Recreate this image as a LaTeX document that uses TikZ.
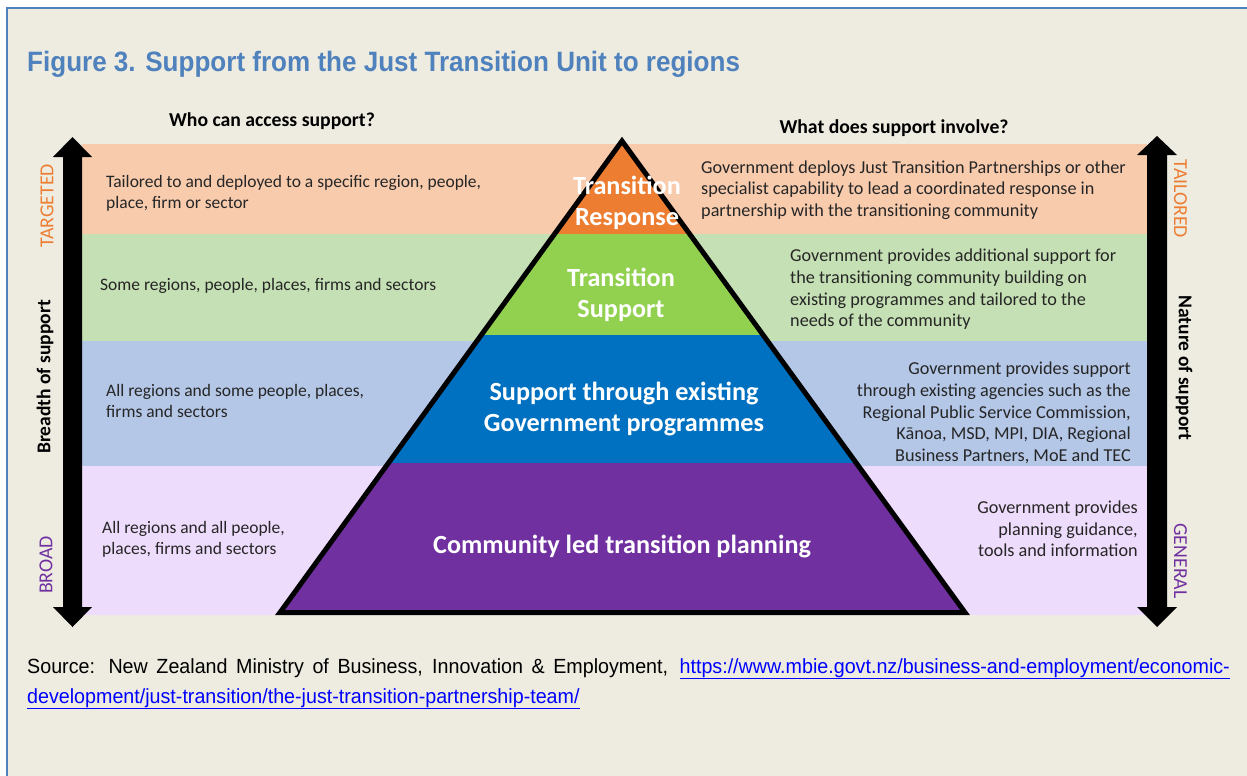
\documentclass[tikz,border=0pt]{standalone}
\usepackage{fontspec}
\setmainfont{Carlito}
\newfontfamily\titlefont[FakeStretch=0.93]{Liberation Sans}
\newfontfamily\srcfont[FakeStretch=0.96]{Liberation Sans}
\usetikzlibrary{positioning}

\definecolor{pagebg}{HTML}{EEECE1}
\definecolor{frameblue}{HTML}{4F81BD}
\definecolor{titleblue}{HTML}{4F81BD}
\definecolor{textgray}{HTML}{262626}
\definecolor{bandorange}{HTML}{F8CBAD}
\definecolor{bandgreen}{HTML}{C5E0B4}
\definecolor{bandblue}{HTML}{B4C7E7}
\definecolor{bandlilac}{HTML}{EEDCFC}
\definecolor{pyrorange}{HTML}{ED7D31}
\definecolor{pyrgreen}{HTML}{92D050}
\definecolor{pyrblue}{HTML}{0070C0}
\definecolor{pyrpurple}{HTML}{7030A0}
\definecolor{linkblue}{HTML}{0000FF}

\begin{document}
\begin{tikzpicture}[x=1pt,y=-1pt,
  lefttext/.style={font=\fontsize{17.5}{21}\selectfont,text=textgray,inner sep=0pt,align=left,anchor=west},
  righttext/.style={font=\fontsize{18.2}{21.7}\selectfont,text=textgray,inner sep=0pt},
  headtext/.style={font=\bfseries\fontsize{19.7}{22}\selectfont,text=black,inner sep=0pt,anchor=base},
  pyrtext/.style={font=\bfseries\fontsize{26.2}{31.5}\selectfont,text=white,inner sep=0pt,align=center},
  sidetag/.style={font=\fontsize{19.8}{22}\selectfont,inner sep=0pt},
  sidename/.style={font=\bfseries\fontsize{19.5}{22}\selectfont,text=black,inner sep=0pt},
  srctext/.style={font=\srcfont\fontsize{20.5}{24}\selectfont,inner sep=0pt,anchor=base west}]
\useasboundingbox (0,0) rectangle (1247,776);
\fill[white] (0,0) rectangle (1247,776);
\fill[pagebg] (6.5,8) rectangle (1247,776);
\draw[frameblue,line width=2pt] (6.5,776) -- (6.5,8) -- (1247,8);

% title
\node[font=\titlefont\bfseries\fontsize{28}{32}\selectfont,text=titleblue,inner sep=0pt,anchor=base west] (title) at (27,71) {Figure 3. Support from the Just Transition Unit to regions};

% background bands
\fill[bandorange] (82,144) rectangle (1147,234);
\fill[bandgreen] (82,234) rectangle (1147,341);
\fill[bandblue] (82,341) rectangle (1147,466);
\fill[bandlilac] (82,466) rectangle (1147,615);

% pyramid
\coordinate (apex) at (622,141);
\coordinate (baseL) at (280,612.5);
\coordinate (baseR) at (965,612.5);
\begin{scope}
\clip (apex) -- (baseR) -- (baseL) -- cycle;
\fill[pyrorange] (270,130) rectangle (975,234);
\fill[pyrgreen] (270,234) rectangle (975,335);
\fill[pyrblue] (270,335) rectangle (975,463);
\fill[pyrpurple] (270,463) rectangle (975,620);
\end{scope}
\draw[black,line width=5pt,line join=miter] (apex) -- (baseR) -- (baseL) -- cycle;

\node[pyrtext] (response) at (627,203) {Transition\\Response};
\node[pyrtext] (support) at (621,295) {Transition\\Support};
\node[pyrtext] (existing) at (624,409) {Support through existing\\Government programmes};
\node[pyrtext] (community) at (622,547) {Community led transition planning};

% double arrows
\fill[black] (72.5,137) -- (92,157) -- (82,157) -- (82,607) -- (92,607) -- (72.5,627) -- (53,607) -- (63,607) -- (63,157) -- (53,157) -- cycle;
\fill[black] (1157,136) -- (1177,155) -- (1167,155) -- (1167,607) -- (1177,607) -- (1157,627) -- (1137,607) -- (1147,607) -- (1147,155) -- (1137,155) -- cycle;

\node[sidetag,text=pyrorange,rotate=90] (targeted) at (47,206) {TARGETED};
\node[sidename,rotate=90] (breadth) at (45,377) {Breadth of support};
\node[sidetag,text=pyrpurple,rotate=90] (broad) at (46,565) {BROAD};
\node[sidetag,text=pyrorange,rotate=-90] (tailored) at (1180.5,199) {TAILORED};
\node[sidename,rotate=-90] (nature) at (1184,368) {Nature of support};
\node[sidetag,text=pyrpurple,rotate=-90] (general) at (1180.5,561) {GENERAL};

% column heads
\node[headtext] (who) at (272,126) {Who can access support?};
\node[headtext] (what) at (894,133) {What does support involve?};

% left column
\node[lefttext] (whotop) at (106,193) {Tailored to and deployed to a specific region, people,\\place, firm or sector};
\node[lefttext] (whosome) at (100,286) {Some regions, people, places, firms and sectors};
\node[lefttext] (whoall) at (106,401) {All regions and some people, places,\\firms and sectors};
\node[lefttext] (whobroad) at (102,539) {All regions and all people,\\places, firms and sectors};

% right column
\node[righttext,align=left,anchor=west] (whattop) at (701,190) {Government deploys Just Transition Partnerships or other\\specialist capability to lead a coordinated response in\\partnership with the transitioning community};
\node[righttext,align=left,anchor=west] (whatextra) at (790,289.5) {Government provides additional support for\\the transitioning community building on\\existing programmes and tailored to the\\needs of the community};
\node[righttext,align=right,anchor=east] (whatagency) at (1131,413) {Government provides support\\through existing agencies such as the\\Regional Public Service Commission,\\Kānoa, MSD, MPI, DIA, Regional\\Business Partners, MoE and TEC};
\node[righttext,align=right,anchor=east] (whatplan) at (1138,529) {Government provides\\planning guidance,\\tools and information};

% source
\node[srctext,text=black] (source) at (27,673) {\makebox[641pt][s]{Source: New Zealand Ministry of Business, Innovation \& Employment,}};
\node[srctext,text=linkblue,anchor=base east] (link) at (1230,673) {\underline{https://www.mbie.govt.nz/business-and-employment/economic-}};
\node[srctext,text=linkblue] (linktail) at (27,703) {\underline{development/just-transition/the-just-transition-partnership-team/}};
\end{tikzpicture}
\end{document}
